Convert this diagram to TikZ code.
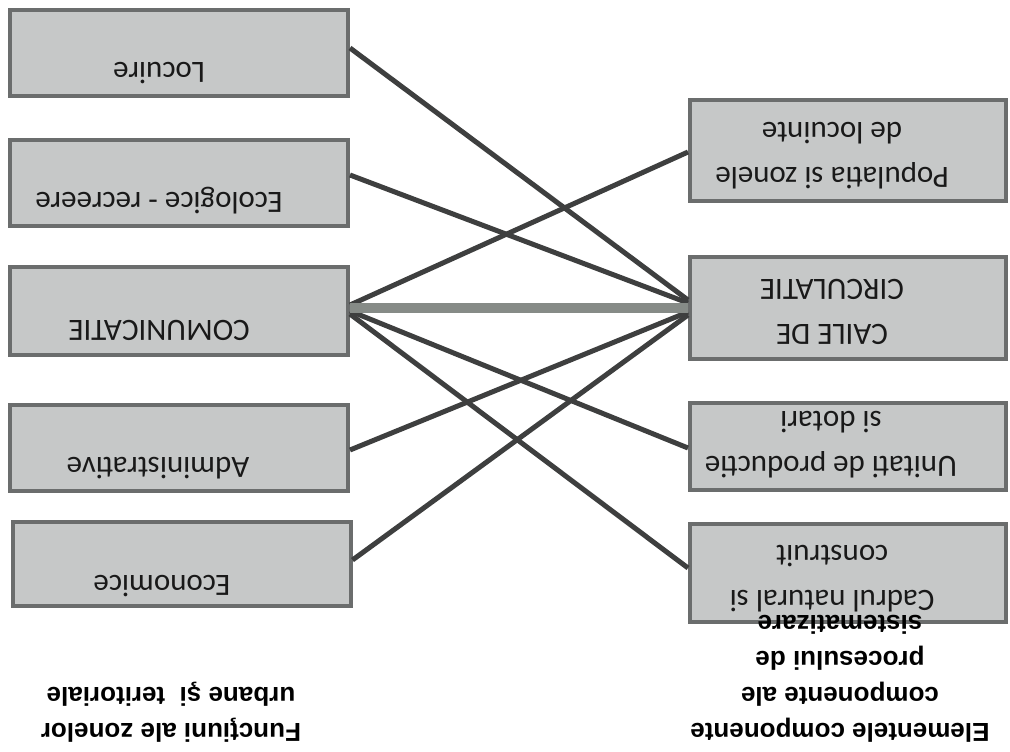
\documentclass[tikz,border=0pt]{standalone}
\usepackage{fontspec}
\setmainfont{Carlito}
\newfontfamily\headfont{Liberation Sans}
\usepackage{xcolor}
\definecolor{cFill}{HTML}{C6C8C8}
\definecolor{cEdge}{HTML}{6B6D6D}
\definecolor{cLink}{HTML}{3E3F3F}
\definecolor{cMainLink}{HTML}{868B87}
\usepackage{tikz}
\usetikzlibrary{calc}
\tikzset{
  zone-box/.style={draw=cEdge,line width=4pt,fill=cFill,rectangle,
    minimum width=338pt,minimum height=86pt,inner sep=0pt},
  elem-box/.style={draw=cEdge,line width=4pt,fill=cFill,rectangle,
    minimum width=316pt,inner sep=0pt},
  % textul din scanare este intors cu 180 de grade
  box-text/.style={rotate=180,inner sep=0pt,align=center,
    font=\fontsize{31}{45}\selectfont,text=black!90},
  head-text/.style={rotate=180,inner sep=0pt,align=center,
    font=\headfont\bfseries\fontsize{26}{36}\selectfont},
  link/.style={draw=cLink,line width=5pt},
  link-main/.style={draw=cMainLink,line width=10pt},
}
\begin{document}
\begin{tikzpicture}[x=1pt,y=-1pt]
  \useasboundingbox (0,0) rectangle (1010,752);
  % functiuni (stanga)
  \node[zone-box]                     (loc) at (179,53.5) {};
  \node[zone-box]                     (eco) at (179,183)  {};
  \node[zone-box,minimum height=88pt] (com) at (179,311)  {};
  \node[zone-box]                     (adm) at (179,448)  {};
  \node[zone-box,minimum height=84pt] (ecn) at (181.5,564) {};
  % elemente componente (dreapta)
  \node[elem-box,minimum height=101pt] (pop) at (848,150.5) {};
  \node[elem-box,minimum height=102pt] (cai) at (848,308)   {};
  \node[elem-box,minimum height=87pt]  (uni) at (848,446.5) {};
  \node[elem-box,minimum height=98pt]  (cad) at (848,573)   {};
  \node[box-text,anchor=base] (loc-t) at (159,63)  {Locuire};
  \node[box-text,anchor=base] (eco-t) at (159,192) {Ecologice - recreere};
  \node[box-text,anchor=base] (com-t) at (159,320) {COMUNICATIE};
  \node[box-text,anchor=base] (adm-t) at (158,457) {Administrative};
  \node[box-text,anchor=base] (ecn-t) at (162,575) {Economice};
  \node[box-text] (pop-t) at (832,156) {Populatia si zonele\\de locuinte};
  \node[box-text] (cai-t) at (832,312) {CAILE DE\\CIRCULATIE};
  \node[box-text] (uni-t) at (831,445) {Unitati de productie\\si dotari};
  \node[box-text] (cad-t) at (832,579) {Cadrul natural si\\construit};
  % legaturi
  \draw[link] ($(loc.east)+(0,-5.5)$) -- ($(cai.west)+(0,-8)$);
  \draw[link] ($(eco.east)+(0,-8)$)   -- ($(cai.west)+(0,-5)$);
  \draw[link] ($(com.east)+(0,-6)$)   -- ($(pop.west)+(0,1.5)$);
  \draw[link] ($(com.east)+(0,0)$)    -- ($(uni.west)+(0,1.5)$);
  \draw[link] ($(com.east)+(0,3)$)    -- ($(cad.west)+(0,-5)$);
  \draw[link] ($(adm.east)+(0,2)$)    -- ($(cai.west)+(0,4)$);
  \draw[link] ($(ecn.east)+(0,-4)$)   -- ($(cai.west)+(0,7)$);
  \draw[link-main] ($(com.east)+(0,-3)$) -- (cai.west);
  % titluri
  \node[head-text] (fun-h) at (171,712)
    {Funcţiuni ale zonelor\\urbane şi\ \ teritoriale};
  \node[head-text] (elem-h) at (840,678.5)
    {Elementele componente\\componente ale\\procesului de\\sistematizare};
\end{tikzpicture}
\end{document}
